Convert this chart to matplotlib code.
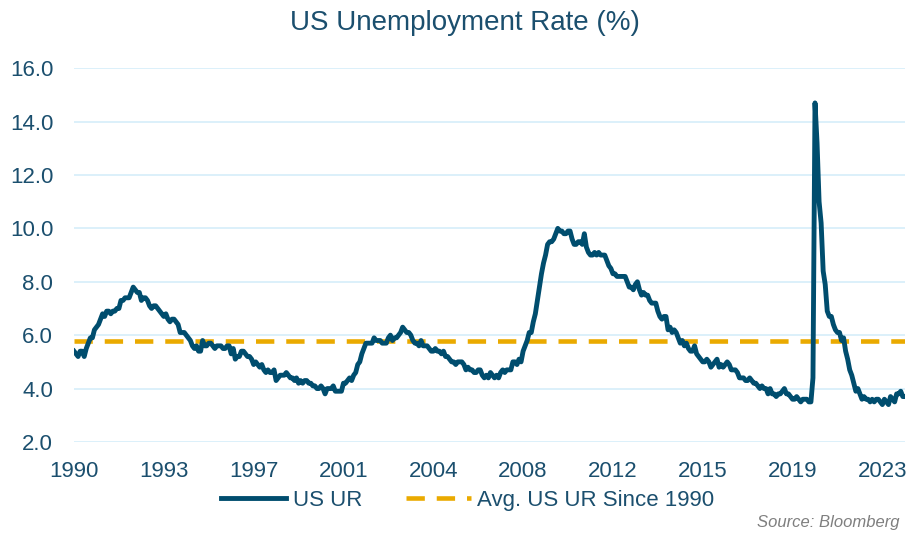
import numpy as np
import matplotlib.pyplot as plt

plt.rcParams['font.family'] = ['Liberation Sans', 'DejaVu Sans']

# monthly US unemployment rate, Jan 1990 - Dec 2023
ur_1990s = [
    5.4, 5.3, 5.2, 5.4, 5.4, 5.2, 5.5, 5.7, 5.9, 5.9, 6.2, 6.3,  # 1990
    6.4, 6.6, 6.8, 6.7, 6.9, 6.9, 6.8, 6.9, 6.9, 7.0, 7.0, 7.3,  # 1991
    7.3, 7.4, 7.4, 7.4, 7.6, 7.8, 7.7, 7.6, 7.6, 7.3, 7.4, 7.4,  # 1992
    7.3, 7.1, 7.0, 7.1, 7.1, 7.0, 6.9, 6.8, 6.7, 6.8, 6.6, 6.5,  # 1993
    6.6, 6.6, 6.5, 6.4, 6.1, 6.1, 6.1, 6.0, 5.9, 5.8, 5.6, 5.5,  # 1994
    5.6, 5.4, 5.4, 5.8, 5.6, 5.6, 5.7, 5.7, 5.6, 5.5, 5.6, 5.6,  # 1995
    5.6, 5.5, 5.5, 5.6, 5.6, 5.3, 5.5, 5.1, 5.2, 5.2, 5.4, 5.4,  # 1996
    5.3, 5.2, 5.2, 5.1, 4.9, 5.0, 4.9, 4.8, 4.9, 4.7, 4.6, 4.7,  # 1997
    4.6, 4.6, 4.7, 4.3, 4.4, 4.5, 4.5, 4.5, 4.6, 4.5, 4.4, 4.4,  # 1998
    4.3, 4.4, 4.2, 4.3, 4.2, 4.3, 4.3, 4.2, 4.2, 4.1, 4.1, 4.0,  # 1999
]
ur_2000s = [
    4.0, 4.1, 4.0, 3.8, 4.0, 4.0, 4.0, 4.1, 3.9, 3.9, 3.9, 3.9,  # 2000
    4.2, 4.2, 4.3, 4.4, 4.3, 4.5, 4.6, 4.9, 5.0, 5.3, 5.5, 5.7,  # 2001
    5.7, 5.7, 5.7, 5.9, 5.8, 5.8, 5.8, 5.7, 5.7, 5.7, 5.9, 6.0,  # 2002
    5.8, 5.9, 5.9, 6.0, 6.1, 6.3, 6.2, 6.1, 6.1, 6.0, 5.8, 5.7,  # 2003
    5.7, 5.6, 5.8, 5.6, 5.6, 5.6, 5.5, 5.4, 5.4, 5.5, 5.4, 5.4,  # 2004
    5.3, 5.4, 5.2, 5.2, 5.1, 5.0, 5.0, 4.9, 5.0, 5.0, 5.0, 4.9,  # 2005
    4.7, 4.8, 4.7, 4.7, 4.6, 4.6, 4.7, 4.7, 4.5, 4.4, 4.5, 4.4,  # 2006
    4.6, 4.5, 4.4, 4.5, 4.4, 4.6, 4.7, 4.6, 4.7, 4.7, 4.7, 5.0,  # 2007
    5.0, 4.9, 5.1, 5.0, 5.4, 5.6, 5.8, 6.1, 6.1, 6.5, 6.8, 7.3,  # 2008
    7.8, 8.3, 8.7, 9.0, 9.4, 9.5, 9.5, 9.6, 9.8, 10.0, 9.9, 9.9,  # 2009
]
ur_2010s = [
    9.8, 9.8, 9.9, 9.9, 9.6, 9.4, 9.4, 9.5, 9.5, 9.4, 9.8, 9.3,  # 2010
    9.1, 9.0, 9.0, 9.1, 9.0, 9.1, 9.0, 9.0, 9.0, 8.8, 8.6, 8.5,  # 2011
    8.3, 8.3, 8.2, 8.2, 8.2, 8.2, 8.2, 8.0, 7.8, 7.8, 7.7, 7.9,  # 2012
    8.0, 7.7, 7.5, 7.6, 7.5, 7.5, 7.3, 7.2, 7.2, 7.2, 6.9, 6.7,  # 2013
    6.6, 6.7, 6.7, 6.2, 6.3, 6.1, 6.2, 6.1, 5.9, 5.7, 5.8, 5.6,  # 2014
    5.7, 5.5, 5.4, 5.4, 5.6, 5.3, 5.2, 5.1, 5.0, 5.0, 5.1, 5.0,  # 2015
    4.8, 4.9, 5.0, 5.1, 4.8, 4.9, 4.8, 4.9, 5.0, 4.9, 4.7, 4.7,  # 2016
    4.7, 4.6, 4.4, 4.4, 4.4, 4.3, 4.3, 4.4, 4.3, 4.2, 4.2, 4.1,  # 2017
    4.0, 4.1, 4.0, 4.0, 3.8, 4.0, 3.8, 3.8, 3.7, 3.8, 3.8, 3.9,  # 2018
    4.0, 3.8, 3.8, 3.7, 3.6, 3.6, 3.7, 3.6, 3.5, 3.6, 3.6, 3.6,  # 2019
]
ur_2020s = [
    3.5, 3.5, 4.4, 14.7, 13.2, 11.0, 10.2, 8.4, 7.9, 6.9, 6.7, 6.7,  # 2020
    6.4, 6.2, 6.1, 6.1, 5.8, 5.9, 5.4, 5.1, 4.7, 4.5, 4.2, 3.9,  # 2021
    4.0, 3.8, 3.6, 3.7, 3.6, 3.6, 3.5, 3.6, 3.5, 3.6, 3.6, 3.5,  # 2022
    3.4, 3.6, 3.5, 3.4, 3.7, 3.6, 3.5, 3.8, 3.8, 3.9, 3.7, 3.7,  # 2023
]
avg_ur = 5.8

tick_labels = ['1990', '1993', '1997', '2001', '2004',
               '2008', '2012', '2015', '2019', '2023']

ur = np.array(ur_1990s + ur_2000s + ur_2010s + ur_2020s)
months = np.arange(len(ur))

navy = '#004D6E'
gold = '#EAAA00'
txt = '#1B4F6E'
grid = '#D5EEF9'

fig = plt.figure(figsize=(9.07, 5.37), dpi=100)
ax = fig.add_axes([0.0816, 0.177, 0.916, 0.696])

ax.plot(months, ur, color=navy, lw=3.5, label='US UR', zorder=3)
ax.plot([months[0], months[-1]], [avg_ur, avg_ur], color=gold, lw=3.3,
        dashes=(4, 2.6), label='Avg. US UR Since 1990', zorder=2)

ax.set_xlim(months[0], months[-1])
ax.set_ylim(2, 16)
ax.set_yticks(np.arange(2, 17, 2))
ax.set_yticklabels(['%.1f' % v for v in np.arange(2, 17, 2)])
ax.set_xticks(np.arange(0, 44 * len(tick_labels), 44))
ax.set_xticklabels(tick_labels)

ax.grid(axis='y', color=grid, lw=1.2)
ax.set_axisbelow(True)
for s in ax.spines.values():
    s.set_visible(False)
ax.tick_params(axis='both', length=0, labelsize=16, colors=txt)
ax.tick_params(axis='y', pad=15)
ax.tick_params(axis='x', pad=14)

fig.text(0.513, 0.957, 'US Unemployment Rate (%)', ha='center', va='center',
         fontsize=20, color=txt)

leg = fig.legend(loc='center', bbox_to_anchor=(0.516, 0.068), ncol=2,
                 frameon=False, fontsize=16, handlelength=2.9,
                 handletextpad=0.3, columnspacing=2.0)
for t in leg.get_texts():
    t.set_color(txt)

fig.text(0.992, 0.027, 'Source: Bloomberg', ha='right', va='center',
         fontsize=12, style='italic', color='#7F7F7F')

fig.savefig('out.png', dpi=100)
